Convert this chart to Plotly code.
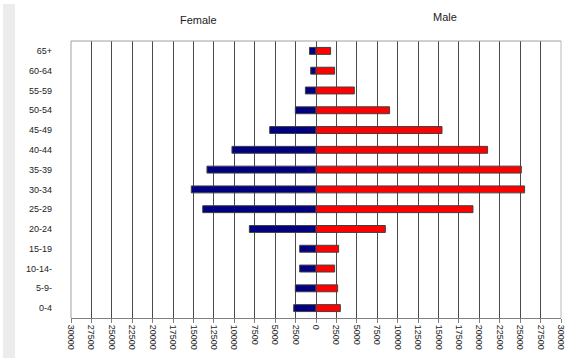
import plotly.graph_objects as go

age_groups = ["0-4", "5-9-", "10-14-", "15-19", "20-24", "25-29", "30-34",
              "35-39", "40-44", "45-49", "50-54", "55-59", "60-64", "65+"]
female = [2730, 2530, 2000, 2000, 8160, 13870, 15270, 13350, 10290, 5670, 2530, 1300, 650, 800]
male = [2980, 2650, 2280, 2770, 8490, 19220, 25540, 25140, 21010, 15430, 9010, 4690, 2280, 1790]
tick_values = list(range(-30000, 30001, 2500))
tick_labels = [str(abs(v)) for v in tick_values]

W, H = 571, 361
L, R, T, B = 71, 10, 41, 43
pw, ph = W - L - R, H - T - B

def px(x):
    return (x - L) / pw

def py(y):
    return (H - B - y) / ph

fig = go.Figure()
fig.add_trace(go.Bar(
    y=age_groups, x=[-v for v in female], orientation="h", name="Female",
    marker=dict(color="#000080", line=dict(color="#404040", width=1)),
))
fig.add_trace(go.Bar(
    y=age_groups, x=male, orientation="h", name="Male",
    marker=dict(color="#ff0000", line=dict(color="#404040", width=1)),
))

fig.update_layout(
    width=W, height=H,
    margin=dict(l=L, r=R, t=T, b=B, autoexpand=False),
    paper_bgcolor="white", plot_bgcolor="white",
    barmode="relative", bargap=0.65,
    showlegend=False,
    font=dict(family="Liberation Sans, Arial, sans-serif", color="#222"),
    xaxis=dict(
        range=[-30000, 30000], tickvals=tick_values, ticktext=tick_labels,
        tickangle=90, tickfont=dict(size=9, color="#222"),
        showgrid=True, gridcolor="#4a4a4a", gridwidth=1,
        zeroline=True, zerolinecolor="#4a4a4a", zerolinewidth=1,
        showline=True, linecolor="#808080", linewidth=1, mirror=False,
        ticks="outside", ticklen=4, tickcolor="#808080",
        automargin=False, fixedrange=True,
    ),
    yaxis=dict(
        categoryorder="array", categoryarray=age_groups,
        tickfont=dict(size=9, color="#222"),
        showgrid=False, zeroline=False, showline=False,
        ticks="", ticklabelstandoff=18,
        range=[-0.5, 13.5], automargin=False, fixedrange=True,
    ),
    shapes=[
        dict(type="rect", xref="paper", yref="paper",
             x0=px(3), x1=px(15), y0=py(358), y1=py(4),
             fillcolor="#ececec", line=dict(width=0), layer="below"),
        dict(type="line", xref="paper", yref="paper", x0=0, x1=1, y0=1, y1=1,
             line=dict(color="#a0a0a0", width=1)),
        dict(type="line", xref="paper", yref="paper", x0=1, x1=1, y0=0, y1=1,
             line=dict(color="#b8b8b8", width=1)),
        dict(type="line", xref="paper", yref="paper", x0=0, x1=0, y0=0, y1=1,
             line=dict(color="#a0a0a0", width=1)),
    ],
    annotations=[
        dict(text="Female", xref="paper", yref="paper", x=px(198), y=py(20),
             showarrow=False, font=dict(size=11, color="#222"),
             xanchor="center", yanchor="middle"),
        dict(text="Male", xref="paper", yref="paper", x=px(445), y=py(17),
             showarrow=False, font=dict(size=11, color="#222"),
             xanchor="center", yanchor="middle"),
    ],
)

fig.write_html(
    "out.html",
    config={"displayModeBar": False},
    post_script="document.body.style.margin='0';document.body.style.overflow='hidden';",
)
